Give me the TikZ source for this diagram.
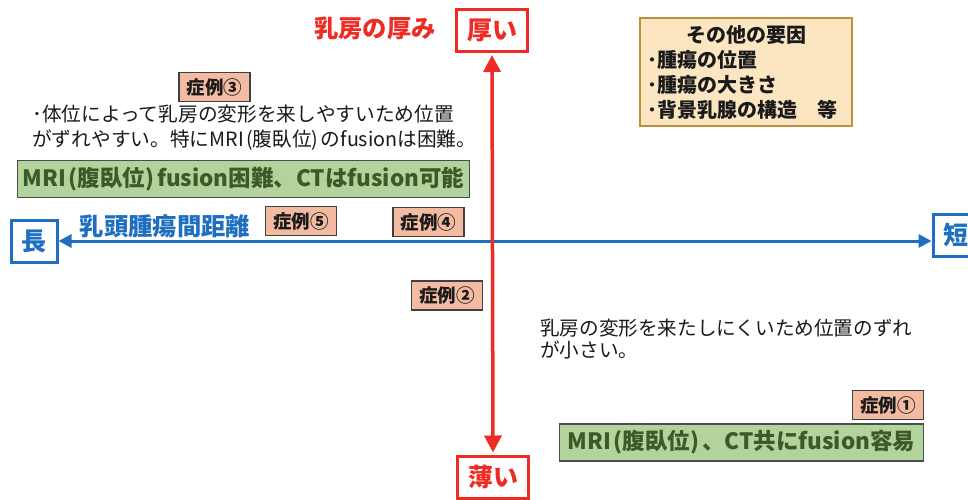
\documentclass[tikz,border=0pt]{standalone}
\usepackage{fontspec}
\setmainfont{Noto Sans CJK JP}
\usetikzlibrary{arrows.meta}
\newcommand\plp{\hspace{0.12em}(}
\newcommand\prp{)\hspace{0.12em}}
\definecolor{axred}{HTML}{EE2B24}
\definecolor{axblue}{HTML}{1E6FC1}
\definecolor{casefill}{HTML}{F3BBA2}
\definecolor{greenfill}{HTML}{B3D39C}
\definecolor{greentext}{HTML}{3B5A28}
\definecolor{tanfill}{HTML}{FCE6C2}
\definecolor{tanline}{HTML}{B8933C}
\definecolor{bodyink}{HTML}{1A1A1A}
\tikzset{
  casebox/.style={draw=black!75, fill=casefill, line width=1.3pt, inner sep=0pt,
    minimum width=71pt, minimum height=29pt, text=bodyink,
    font=\fontsize{18.5}{21}\selectfont\bfseries},
  greenbox/.style={draw=black!70, fill=greenfill, line width=1.3pt, inner sep=0pt,
    minimum height=37pt, text=greentext, font=\fontsize{22.5}{26}\selectfont\bfseries},
  redbox/.style={draw=axred, line width=3pt, text=axred, inner sep=0pt,
    minimum width=71pt, minimum height=42pt, font=\fontsize{25}{28}\selectfont\bfseries},
  bluebox/.style={draw=axblue, line width=3pt, text=axblue, inner sep=0pt,
    minimum width=46pt, minimum height=42pt, font=\fontsize{25}{28}\selectfont\bfseries},
  bodytext/.style={font=\fontsize{19.7}{25}\selectfont, text=bodyink, align=left,
    anchor=west, inner sep=0pt},
  redarr/.style={draw=axred, line width=3.5pt, {Triangle[length=17pt,width=17pt]}-{Triangle[length=17pt,width=17pt]}},
  bluearr/.style={draw=axblue, line width=3pt, {Triangle[length=13pt,width=13pt]}-{Triangle[length=13pt,width=13pt]}},
  axislabel/.style={inner sep=0pt, font=\fontsize{24.3}{27}\selectfont\bfseries}
}
\begin{document}
\begin{tikzpicture}[x=1pt,y=-1pt]
\useasboundingbox[fill=white] (0,0) rectangle (968,499);
% axis end boxes
\node[redbox] (thick) at (492,30.5) {厚い};
\node[redbox] (thin) at (493,477) {薄い};
\node[bluebox] (naga) at (34,241) {長};
\node[bluebox] (mijika) at (956,235.5) {短};
% axes
\draw[bluearr] (naga.east) -- (naga.east -| mijika.west);
\draw[redarr, shorten <=2pt, shorten >=2pt] (thick.south) -- (thin.north);
% axis labels
\node[axislabel, text=axred] (thicklab) at (375,28) {乳房の厚み};
\node[axislabel, text=axblue] (distlab) at (165,226) {乳頭腫瘍間距離};
% case boxes
\node[casebox] (c3) at (214.5,87) {症例③};
\node[casebox] (c5) at (301,221) {症例⑤};
\node[casebox] (c4) at (428.5,222) {症例④};
\node[casebox] (c2) at (447,295.5) {症例②};
\node[casebox] (c1) at (888,405) {症例①};
% green conclusion boxes
\node[greenbox, minimum width=452pt] (g1) at (243.5,179) {MRI\plp 腹臥位\prp fusion困難、CTはfusion可能};
\node[greenbox, minimum width=364pt] (g2) at (741.5,442.5) {MRI\plp 腹臥位\prp 、CT共にfusion容易};
% explanatory texts
\node[bodytext] (t1) at (32,127.5) {･体位によって乳房の変形を来しやすいため位置\\がずれやすい。特にMRI\plp 腹臥位\prp のfusionは困難。};
\node[bodytext, font=\fontsize{19.6}{22}\selectfont] (t2) at (540,339) {乳房の変形を来たしにくいため位置のずれ\\が小さい。};
% other factors
\node[draw=tanline, fill=tanfill, line width=2.2pt, inner xsep=7pt, inner ysep=3pt,
  minimum width=212pt, minimum height=108pt, align=left, text=bodyink,
  font=\fontsize{20}{25}\selectfont\bfseries] (other) at (746,72)
  {\makebox[198pt][c]{その他の要因}\\･腫瘍の位置\\･腫瘍の大きさ\\･背景乳腺の構造　等};
\end{tikzpicture}
\end{document}
